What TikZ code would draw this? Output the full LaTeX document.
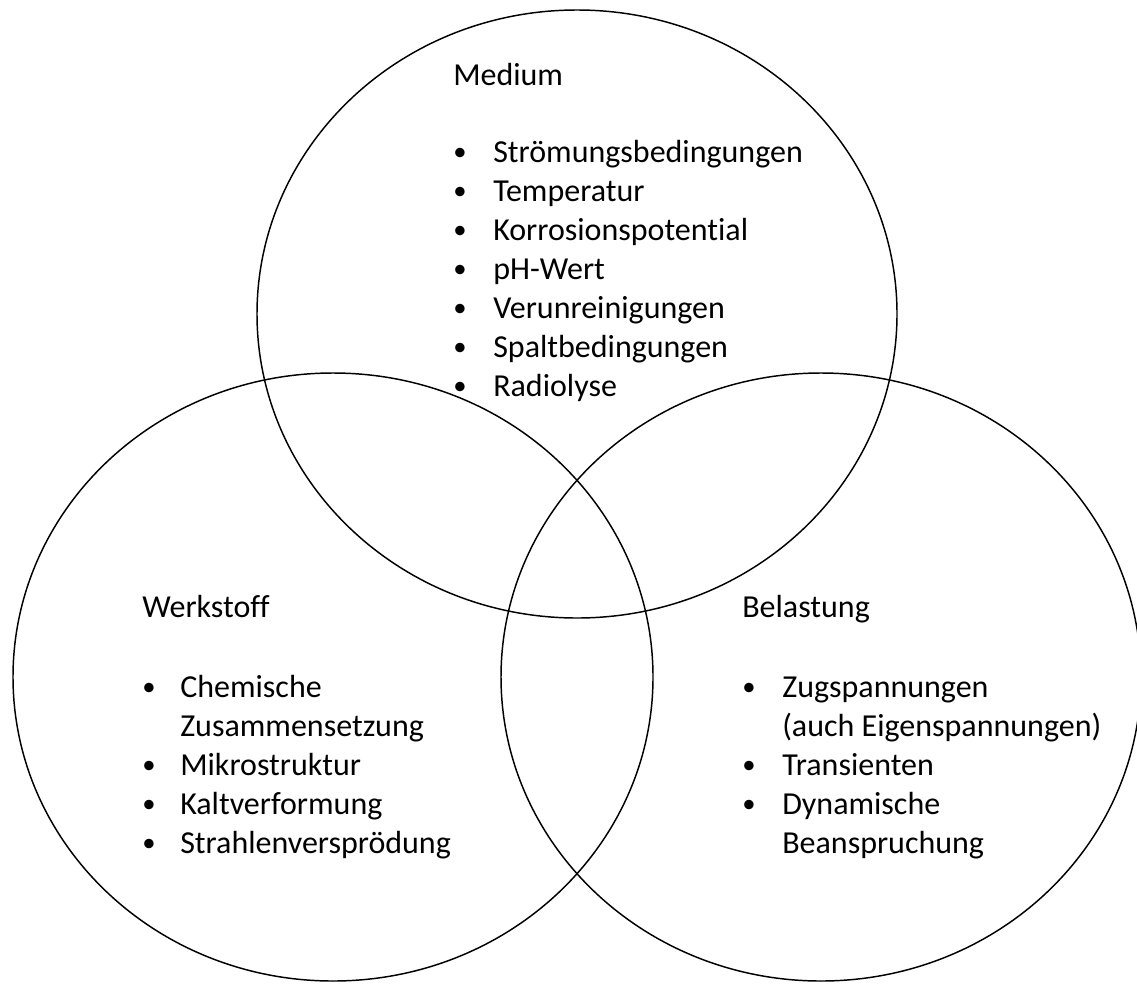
\documentclass[tikz,border=0pt]{standalone}
\usepackage{fontspec}
\setmainfont{Carlito}[Ligatures={NoCommon}]
\usepackage{array}

\tikzset{
  venn/.style={draw=black, line width=1.1pt},
  head/.style={anchor=base west, inner sep=0pt, font=\fontsize{24}{29.25}\selectfont},
  items/.style={anchor=base west, inner sep=0pt, align=left, font=\fontsize{24}{29.25}\selectfont}
}
\newcommand{\bul}{\raisebox{0.06em}{\fontsize{20}{24}\selectfont\textbullet}}

\begin{document}
\begin{tikzpicture}[x=0.75pt,y=0.75pt,yscale=-1,xscale=1]
\useasboundingbox (0,0) rectangle (1137,985);

% Circles
\draw [venn] (577,314) ellipse [x radius=320, y radius=304];
\draw [venn] (333,677) ellipse [x radius=320, y radius=304];
\draw [venn] (821,677) ellipse [x radius=320, y radius=304];

% Medium
\node (medium) at (453,85) [head] {Medium};
\node (mediumlist) at (453,162) [items] {\begin{tabular}[t]{@{}p{30pt}@{}l@{}}
\bul & Strömungsbedingungen\\
\bul & Temperatur\\
\bul & Korrosionspotential\\
\bul & pH-Wert\\
\bul & Verunreinigungen\\
\bul & Spaltbedingungen\\
\bul & Radiolyse
\end{tabular}};

% Werkstoff
\node (werkstoff) at (142,617) [head] {Werkstoff};
\node (werkstofflist) at (142,697) [items] {\begin{tabular}[t]{@{}p{28.5pt}@{}l@{}}
\bul & Chemische\\
 & Zusammensetzung\\
\bul & Mikrostruktur\\
\bul & Kaltverformung\\
\bul & Strahlenversprödung
\end{tabular}};

% Belastung
\node (belastung) at (742,617) [head] {Belastung};
\node (belastunglist) at (742,697) [items] {\begin{tabular}[t]{@{}p{30pt}@{}l@{}}
\bul & Zugspannungen\\
 & (auch Eigenspannungen)\\
\bul & Transienten\\
\bul & Dynamische\\
 & Beanspruchung
\end{tabular}};

\end{tikzpicture}
\end{document}
